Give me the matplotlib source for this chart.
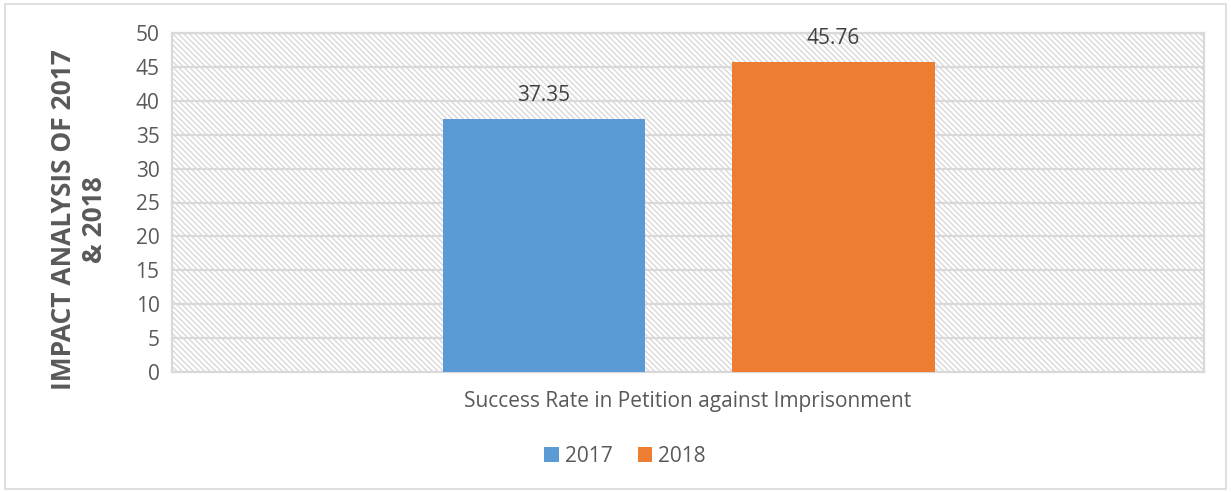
import numpy as np
import matplotlib.pyplot as plt
from matplotlib.patches import Rectangle

category = "Success Rate in Petition against Imprisonment"
years = ["2017", "2018"]
rates = [37.35, 45.76]
colors = ["#5B9BD5", "#ED7D31"]

plt.rcParams['font.family'] = ['Open Sans', 'DejaVu Sans']
grey = "#595959"
line = "#D9D9D9"
plt.rcParams['hatch.color'] = line
plt.rcParams['hatch.linewidth'] = 1.0

fig = plt.figure(figsize=(12.31, 4.92), dpi=100)
# outer chart border
fig.patches.append(Rectangle((5/1231, 3/492), 1221/1231, 485/492, transform=fig.transFigure,
                             fill=False, edgecolor=line, linewidth=1.2))
ax = fig.add_axes([172/1231, 120/492, 1032/1231, 339/492])

# hatched plot area
ax.patch.set_facecolor("white")
ax.patch.set_hatch("\\" * 6)
ax.patch.set_edgecolor(line)

width = 0.196
offsets = [-0.1395, 0.141]
for i in range(len(years)):
    ax.bar(offsets[i], rates[i], width=width, color=colors[i], label=years[i], zorder=3)
    ax.text(offsets[i], rates[i] + 3.5, f"{rates[i]:.2f}", ha="center", va="center",
            fontsize=15, color="#404040", zorder=4)

ax.set_xlim(-0.5, 0.5)
ax.set_ylim(0, 50)
ax.set_yticks(np.arange(0, 51, 5))
ax.set_xticks([0])
ax.set_xticklabels([category])
ax.yaxis.grid(True, color=line, linewidth=1.6, zorder=1)
ax.set_axisbelow(True)
for s in ax.spines.values():
    s.set_color(line)
    s.set_linewidth(1.6)
ax.tick_params(axis="both", length=0, labelsize=15, colors=grey, pad=9)
ax.tick_params(axis="x", pad=14)

ax.set_ylabel("IMPACT ANALYSIS OF 2017\n& 2018", fontsize=19, fontweight="bold",
              color=grey, linespacing=1.2)
ax.yaxis.set_label_coords(-0.062, 0.45)

leg = ax.legend(loc="center", bbox_to_anchor=(625/1231, 1 - 456/492), bbox_transform=fig.transFigure,
                ncol=2, frameon=False, fontsize=15, handlelength=0.7, handleheight=0.7,
                handletextpad=0.3, columnspacing=1.2)
for t in leg.get_texts():
    t.set_color(grey)

fig.savefig("out.png", dpi=100)
